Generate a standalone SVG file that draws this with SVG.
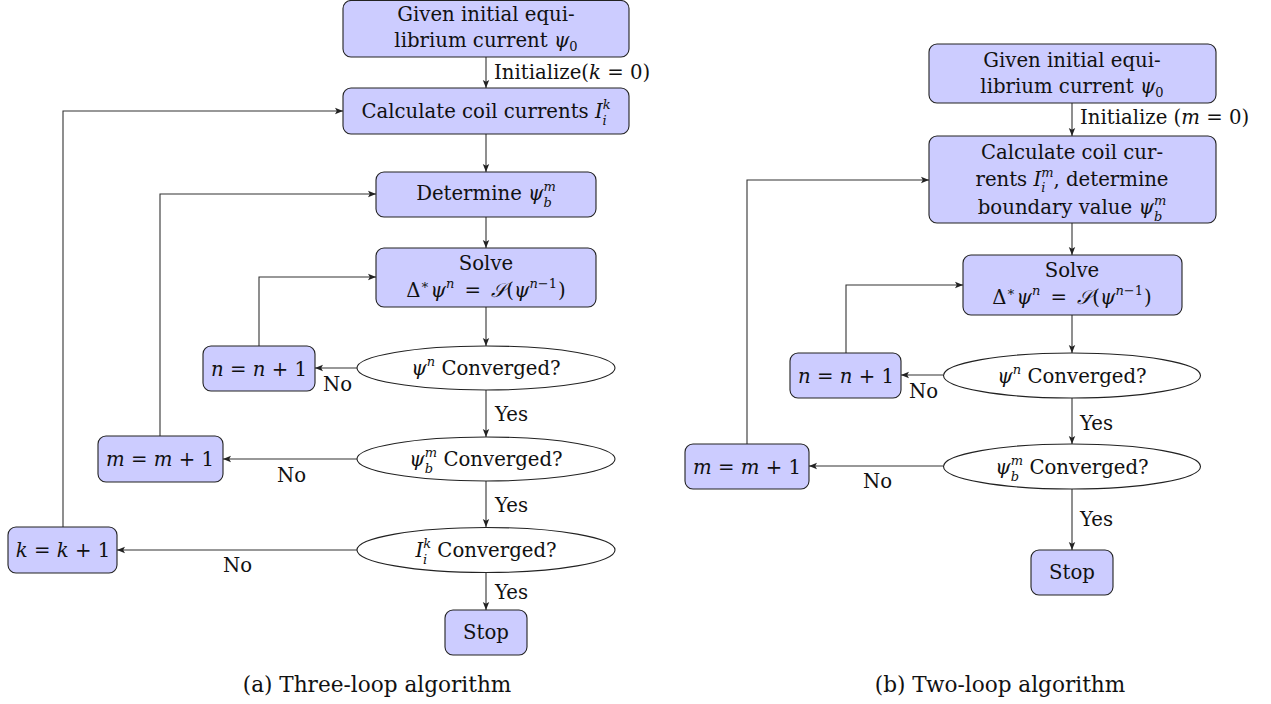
<svg xmlns="http://www.w3.org/2000/svg" width="1271" height="704" viewBox="0 0 1271 704" font-family="'DejaVu Serif', serif">
<defs>
<marker id="ah" markerUnits="userSpaceOnUse" markerWidth="9" markerHeight="8" refX="8" refY="4" orient="auto">
<path d="M0,0.8 L8,4 L0,7.2 L1.8,4 Z" fill="#222"/>
</marker>
<style>
.box{fill:#ccccff;stroke:#222;stroke-width:1.1}
.ell{fill:#ffffff;stroke:#222;stroke-width:1.1}
.t{font-family:'DejaVu Serif',serif;font-size:19.7px;fill:#111}
.c{text-anchor:middle}
.i{font-style:italic}
.s{font-size:13px}
.cap{font-size:21.6px}
.edge{fill:none;stroke:#333;stroke-width:1.1;marker-end:url(#ah)}
</style>
</defs>
<rect width="1271" height="704" fill="#ffffff"/>

<g id="connectors">
<path class="edge" d="M486,57 V88"/>
<path class="edge" d="M486,134 V172"/>
<path class="edge" d="M486,217 V248"/>
<path class="edge" d="M486,307 V346"/>
<path class="edge" d="M357,368 H315"/>
<path class="edge" d="M259,346 V277 H376"/>
<path class="edge" d="M486,390 V437"/>
<path class="edge" d="M357,459 H223"/>
<path class="edge" d="M160,436 V194 H376"/>
<path class="edge" d="M486,481 V527"/>
<path class="edge" d="M357,550 H117"/>
<path class="edge" d="M63,527 V111 H343"/>
<path class="edge" d="M486,572 V610"/>
<path class="edge" d="M1072,103 V136"/>
<path class="edge" d="M1072,223 V255"/>
<path class="edge" d="M1072,315 V353"/>
<path class="edge" d="M943,375 H901"/>
<path class="edge" d="M846,353 V285 H963"/>
<path class="edge" d="M1072,398 V444"/>
<path class="edge" d="M943,466 H809"/>
<path class="edge" d="M747,444 V180 H929"/>
<path class="edge" d="M1072,489 V550"/>
</g>

<g id="edge-labels">
<text class="t" x="494" y="79">Initialize(<tspan class="i">k</tspan> = 0)</text>
<text class="t" x="323" y="391">No</text>
<text class="t" x="495" y="421">Yes</text>
<text class="t" x="277" y="482">No</text>
<text class="t" x="495" y="512">Yes</text>
<text class="t" x="223" y="572">No</text>
<text class="t" x="495" y="599">Yes</text>
<text class="t" x="1080" y="124">Initialize (<tspan class="i">m</tspan> = 0)</text>
<text class="t" x="909" y="398">No</text>
<text class="t" x="1080" y="430">Yes</text>
<text class="t" x="863" y="488">No</text>
<text class="t" x="1080" y="526">Yes</text>
</g>

<g id="a-start">
<rect class="box" x="343" y="0.5" width="286" height="56.5" rx="8"/>
<text class="t c" x="486" y="21">Given initial equi-</text>
<text class="t c" x="486" y="47">librium current <tspan class="i">ψ</tspan><tspan class="s" dy="4">0</tspan></text>
</g>
<g id="a-calc">
<rect class="box" x="343" y="88" width="286" height="46" rx="8"/>
<text class="t c" x="486" y="118">Calculate coil currents <tspan class="i">I</tspan><tspan class="s i" dy="-9">k</tspan><tspan class="s i" dx="-8" dy="15.5">i</tspan></text>
</g>
<g id="a-determine">
<rect class="box" x="376" y="172" width="220" height="45" rx="8"/>
<text class="t c" x="486" y="200">Determine <tspan class="i">ψ</tspan><tspan class="s i" dy="-9">m</tspan><tspan class="s i" dx="-12.3" dy="15.5">b</tspan></text>
</g>
<g id="a-solve">
<rect class="box" x="376" y="248" width="220" height="59" rx="8"/>
<text class="t c" x="486" y="270">Solve</text>
<text class="t c" x="486" y="297">Δ<tspan class="s" dy="-8">∗</tspan><tspan class="i" dx="1" dy="8">ψ</tspan><tspan class="s i" dy="-9">n</tspan><tspan dx="4" dy="9"> = </tspan><tspan class="i" dx="4">𝒮</tspan>(<tspan class="i">ψ</tspan><tspan class="s" dy="-9"><tspan class="i">n</tspan>−1</tspan><tspan dx="1" dy="9">)</tspan></text>
</g>
<g id="a-conv-n">
<ellipse class="ell" cx="486" cy="368" rx="129" ry="22"/>
<text class="t c" x="486" y="375"><tspan class="i">ψ</tspan><tspan class="s i" dy="-9">n</tspan><tspan dy="9"> Converged?</tspan></text>
</g>
<g id="a-inc-n">
<rect class="box" x="203" y="346" width="112" height="45" rx="8"/>
<text class="t c" x="259" y="376"><tspan class="i">n</tspan> = <tspan class="i">n</tspan> + 1</text>
</g>
<g id="a-conv-m">
<ellipse class="ell" cx="486" cy="459" rx="129" ry="22"/>
<text class="t c" x="486" y="466"><tspan class="i">ψ</tspan><tspan class="s i" dy="-9">m</tspan><tspan class="s i" dx="-12.3" dy="15.5">b</tspan><tspan dx="4" dy="-6.5"> Converged?</tspan></text>
</g>
<g id="a-inc-m">
<rect class="box" x="98" y="436" width="125" height="46" rx="8"/>
<text class="t c" x="160" y="466"><tspan class="i">m</tspan> = <tspan class="i">m</tspan> + 1</text>
</g>
<g id="a-conv-k">
<ellipse class="ell" cx="486" cy="550" rx="129" ry="22.5"/>
<text class="t c" x="486" y="557"><tspan class="i">I</tspan><tspan class="s i" dy="-9">k</tspan><tspan class="s i" dx="-8" dy="15.5">i</tspan><tspan dx="3.8" dy="-6.5"> Converged?</tspan></text>
</g>
<g id="a-inc-k">
<rect class="box" x="8" y="527" width="109" height="46" rx="8"/>
<text class="t c" x="63" y="557"><tspan class="i">k</tspan> = <tspan class="i">k</tspan> + 1</text>
</g>
<g id="a-stop">
<rect class="box" x="445" y="610" width="82" height="45" rx="8"/>
<text class="t c" x="486" y="639">Stop</text>
</g>
<text class="t c cap" x="377" y="692">(a) Three-loop algorithm</text>

<g id="b-start">
<rect class="box" x="929" y="44" width="287" height="59" rx="8"/>
<text class="t c" x="1072" y="67">Given initial equi-</text>
<text class="t c" x="1072" y="93">librium current <tspan class="i">ψ</tspan><tspan class="s" dy="4">0</tspan></text>
</g>
<g id="b-calc">
<rect class="box" x="929" y="136" width="287" height="87" rx="8"/>
<text class="t c" x="1072" y="159">Calculate coil cur-</text>
<text class="t c" x="1072" y="185.5">rents <tspan class="i">I</tspan><tspan class="s i" dy="-9">m</tspan><tspan class="s i" dx="-12.3" dy="15.5">i</tspan><tspan dx="8" dy="-6.5">, determine</tspan></text>
<text class="t c" x="1072" y="214">boundary value <tspan class="i">ψ</tspan><tspan class="s i" dy="-9">m</tspan><tspan class="s i" dx="-12.3" dy="15.5">b</tspan></text>
</g>
<g id="b-solve">
<rect class="box" x="963" y="255" width="219" height="60" rx="8"/>
<text class="t c" x="1072" y="277">Solve</text>
<text class="t c" x="1072" y="304">Δ<tspan class="s" dy="-8">∗</tspan><tspan class="i" dx="1" dy="8">ψ</tspan><tspan class="s i" dy="-9">n</tspan><tspan dx="4" dy="9"> = </tspan><tspan class="i" dx="4">𝒮</tspan>(<tspan class="i">ψ</tspan><tspan class="s" dy="-9"><tspan class="i">n</tspan>−1</tspan><tspan dx="1" dy="9">)</tspan></text>
</g>
<g id="b-conv-n">
<ellipse class="ell" cx="1072" cy="375.5" rx="128.5" ry="22.5"/>
<text class="t c" x="1072" y="383"><tspan class="i">ψ</tspan><tspan class="s i" dy="-9">n</tspan><tspan dy="9"> Converged?</tspan></text>
</g>
<g id="b-inc-n">
<rect class="box" x="790" y="353" width="111" height="45" rx="8"/>
<text class="t c" x="846" y="383"><tspan class="i">n</tspan> = <tspan class="i">n</tspan> + 1</text>
</g>
<g id="b-conv-m">
<ellipse class="ell" cx="1072" cy="466.5" rx="128.5" ry="22.5"/>
<text class="t c" x="1072" y="474"><tspan class="i">ψ</tspan><tspan class="s i" dy="-9">m</tspan><tspan class="s i" dx="-12.3" dy="15.5">b</tspan><tspan dx="4" dy="-6.5"> Converged?</tspan></text>
</g>
<g id="b-inc-m">
<rect class="box" x="685" y="444" width="124" height="45" rx="8"/>
<text class="t c" x="747" y="474"><tspan class="i">m</tspan> = <tspan class="i">m</tspan> + 1</text>
</g>
<g id="b-stop">
<rect class="box" x="1031" y="550" width="82" height="45" rx="8"/>
<text class="t c" x="1072" y="579">Stop</text>
</g>
<text class="t c cap" x="1000" y="692">(b) Two-loop algorithm</text>
</svg>
